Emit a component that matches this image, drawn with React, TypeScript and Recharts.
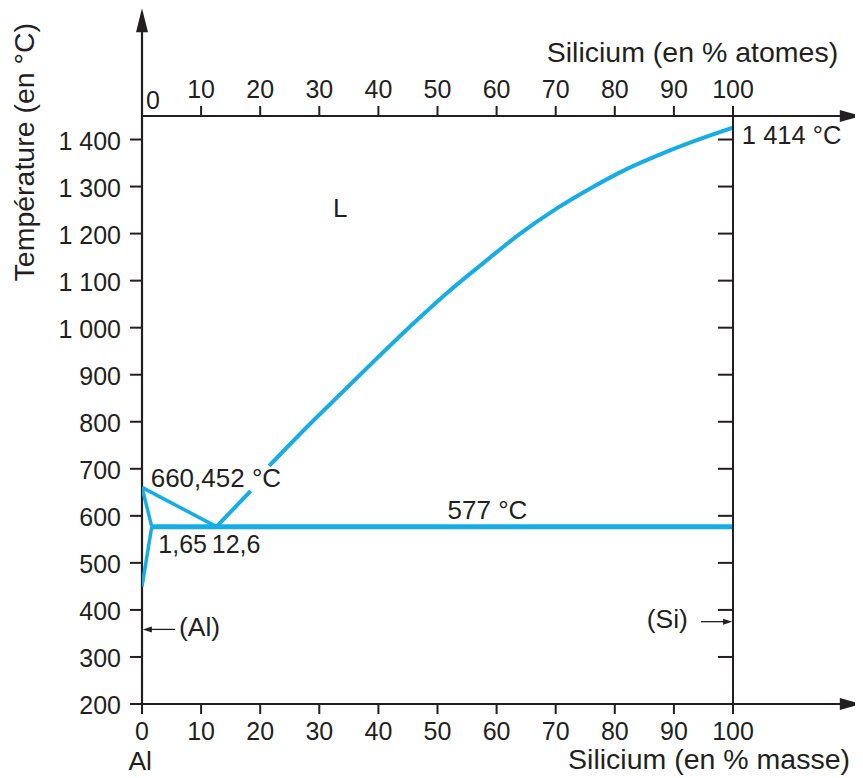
import React from 'react';
import { ComposedChart, Line, XAxis, YAxis, ReferenceLine, ReferenceDot } from 'recharts';

// ---------- data ----------
const massTicks = [0, 10, 20, 30, 40, 50, 60, 70, 80, 90, 100];
const atomTicks = [0, 10, 20, 30, 40, 50, 60, 70, 80, 90, 100];
const tempTicks = [200, 300, 400, 500, 600, 700, 800, 900, 1000, 1100, 1200, 1300, 1400];
const tempTickLabels = ['200', '300', '400', '500', '600', '700', '800', '900', '1 000', '1 100', '1 200', '1 300', '1 400'];

// Al-rich side
const alLiquidus = [{ x: 0, t: 660.452 }, { x: 12.6, t: 577 }];
const alSolidus = [{ x: 0, t: 660.452 }, { x: 1.65, t: 577 }];
const alSolvus = [{ x: 1.65, t: 577 }, { x: 0, t: 450 }];
// eutectic plateau
const eutectic = [{ x: 1.65, t: 577 }, { x: 100, t: 577 }];
// Si liquidus (interrupted by the 660,452 °C label)
const siLiquidusLow = [{ x: 12.6, t: 577 }, { x: 18.4, t: 653 }];
const siLiquidusHigh = [
  { x: 21.5, t: 706 }, { x: 28, t: 790 }, { x: 34, t: 864 }, { x: 40, t: 938 },
  { x: 46, t: 1010 }, { x: 52, t: 1078 }, { x: 58, t: 1140 }, { x: 64, t: 1200 },
  { x: 70, t: 1252 }, { x: 76, t: 1297 }, { x: 82, t: 1337 }, { x: 88, t: 1370 },
  { x: 94, t: 1399 }, { x: 100, t: 1425 },
];

// annotation texts
const annTexts = ['L', '660,452 °C', '577 °C', '1,65', '12,6', '1 414 °C', '(Al)', '(Si)', 'Al',
  'Silicium (en % masse)', 'Silicium (en % atomes)', 'Température (en °C)'];

// ---------- layout / style ----------
const INK = '#231f20';
const BLUE = '#16ade6';
const FONT = '"Liberation Sans", Arial, Helvetica, sans-serif';
const W = 855;
const H = 770;
const MARGIN = { top: 78, right: 130, bottom: 44, left: 74 };

type AnnPos = { x: number; t: number; anchor: 'start' | 'middle' | 'end'; size: number; rotate?: boolean };
const annPos: AnnPos[] = [
  { x: 32.3, t: 1235, anchor: 'start', size: 26 },
  { x: 1.47, t: 662, anchor: 'start', size: 26 },
  { x: 51.7, t: 592.6, anchor: 'start', size: 26 },
  { x: 2.76, t: 521.6, anchor: 'start', size: 25 },
  { x: 11.8, t: 521.6, anchor: 'start', size: 25 },
  { x: 101.5, t: 1390.5, anchor: 'start', size: 25.5 },
  { x: 6.26, t: 344.6, anchor: 'start', size: 26.5 },
  { x: 85.4, t: 361.6, anchor: 'start', size: 26.5 },
  { x: -0.3, t: 60, anchor: 'middle', size: 26.5 },
  { x: 119.8, t: 62, anchor: 'end', size: 28.5 },
  { x: 117.8, t: 1565, anchor: 'end', size: 28.5 },
  { x: -18.3, t: 1373, anchor: 'middle', size: 28.5, rotate: true },
];

const arrowShape = (len: number, half: number, width: number) => (p: any) => {
  const { x1, y1, x2, y2 } = p;
  const dx = x2 - x1;
  const dy = y2 - y1;
  const L = Math.hypot(dx, dy) || 1;
  const ux = dx / L;
  const uy = dy / L;
  const bx = x2 - ux * len;
  const by = y2 - uy * len;
  const px = -uy;
  const py = ux;
  return (
    <g>
      <line x1={x1} y1={y1} x2={bx + ux} y2={by + uy} stroke={INK} strokeWidth={width} />
      <polygon
        points={`${x2},${y2} ${bx + px * half},${by + py * half} ${bx - px * half},${by - py * half}`}
        fill={INK}
      />
    </g>
  );
};

const textShape = (txt: string, a: AnnPos) => (p: any) => {
  const { cx, cy } = p;
  return (
    <text
      x={cx}
      y={cy}
      textAnchor={a.anchor}
      fontFamily={FONT}
      fontSize={a.size}
      fill={INK}
      transform={a.rotate ? `rotate(-90 ${cx} ${cy})` : undefined}
    >
      {txt}
    </text>
  );
};

const LeftTick = (p: any) => {
  const idx = tempTicks.indexOf(p.payload.value);
  return (
    <text x={p.x} y={p.y + 10} textAnchor="end" fontFamily={FONT} fontSize={25} fill={INK}>
      {idx >= 0 ? tempTickLabels[idx] : p.payload.value}
    </text>
  );
};

const BottomTick = (p: any) => (
  <text x={p.x} y={p.y + 24} textAnchor="middle" fontFamily={FONT} fontSize={25} fill={INK}>
    {p.payload.value}
  </text>
);

const TopTick = (p: any) => {
  const isZero = p.payload.value === 0;
  return (
    <text
      x={p.x + (isZero ? 11 : 0)}
      y={p.y + (isZero ? 5 : -6)}
      textAnchor="middle"
      fontFamily={FONT}
      fontSize={25}
      fill={INK}
    >
      {p.payload.value}
    </text>
  );
};

const EmptyTick = () => <g />;

export default function App() {
  const common = { xAxisId: 'b', yAxisId: 'l' } as const;
  const lineProps = {
    ...common,
    dataKey: 't',
    type: 'linear' as const,
    stroke: BLUE,
    strokeWidth: 4,
    dot: false,
    activeDot: false,
    isAnimationActive: false,
  };
  return (
    <ComposedChart width={W} height={H} margin={MARGIN}>
      <XAxis
        xAxisId="b"
        type="number"
        dataKey="x"
        domain={[0, 100]}
        ticks={massTicks}
        interval={0}
        height={30}
        axisLine={false}
        tickSize={10}
        tickMargin={2}
        tickLine={{ stroke: INK, strokeWidth: 2 }}
        tick={<BottomTick />}
        allowDataOverflow
      />
      <XAxis
        xAxisId="t"
        orientation="top"
        type="number"
        dataKey="x"
        domain={[0, 100]}
        ticks={atomTicks}
        interval={0}
        height={30}
        axisLine={false}
        tickSize={10}
        tickMargin={2}
        tickLine={{ stroke: INK, strokeWidth: 2 }}
        tick={<TopTick />}
        allowDataOverflow
      />
      <YAxis
        yAxisId="l"
        type="number"
        domain={[200, 1450]}
        ticks={tempTicks}
        interval={0}
        width={60}
        axisLine={false}
        tickSize={12}
        tickMargin={9}
        tickLine={{ stroke: INK, strokeWidth: 2 }}
        tick={<LeftTick />}
        allowDataOverflow
      />
      <YAxis
        yAxisId="r"
        orientation="right"
        mirror
        type="number"
        domain={[200, 1450]}
        ticks={tempTicks}
        interval={0}
        width={1}
        axisLine={{ stroke: INK, strokeWidth: 2 }}
        tickSize={15}
        tickLine={{ stroke: INK, strokeWidth: 2 }}
        tick={<EmptyTick />}
        allowDataOverflow
      />

      {/* axes with arrowheads */}
      <ReferenceLine {...common} segment={[{ x: 0, y: 200 }, { x: 0, y: 1679 }]} ifOverflow="visible" shape={arrowShape(24, 6, 2.2)} />
      <ReferenceLine {...common} segment={[{ x: 0, y: 200 }, { x: 121.8, y: 200 }]} ifOverflow="visible" shape={arrowShape(22, 6, 2.2)} />
      <ReferenceLine {...common} segment={[{ x: 0, y: 1450 }, { x: 121.8, y: 1450 }]} ifOverflow="visible" shape={arrowShape(22, 6, 2.2)} />
      {/* (Al) and (Si) pointers */}
      <ReferenceLine {...common} segment={[{ x: 5.58, y: 358.6 }, { x: 0.15, y: 358.6 }]} ifOverflow="visible" shape={arrowShape(9, 3, 1.3)} />
      <ReferenceLine {...common} segment={[{ x: 94.6, y: 375 }, { x: 99.85, y: 375 }]} ifOverflow="visible" shape={arrowShape(9, 3, 1.3)} />

      <Line {...lineProps} data={alLiquidus} strokeWidth={3.5} />
      <Line {...lineProps} data={alSolidus} strokeWidth={3.5} />
      <Line {...lineProps} data={alSolvus} strokeWidth={3.5} />
      <Line {...lineProps} data={eutectic} strokeWidth={5} />
      <Line {...lineProps} data={siLiquidusLow} />
      <Line {...lineProps} data={siLiquidusHigh} type="monotone" />

      {annTexts.map((txt, i) => (
        <ReferenceDot
          key={txt}
          {...common}
          x={annPos[i].x}
          y={annPos[i].t}
          r={0}
          ifOverflow="visible"
          shape={textShape(txt, annPos[i])}
        />
      ))}
    </ComposedChart>
  );
}
